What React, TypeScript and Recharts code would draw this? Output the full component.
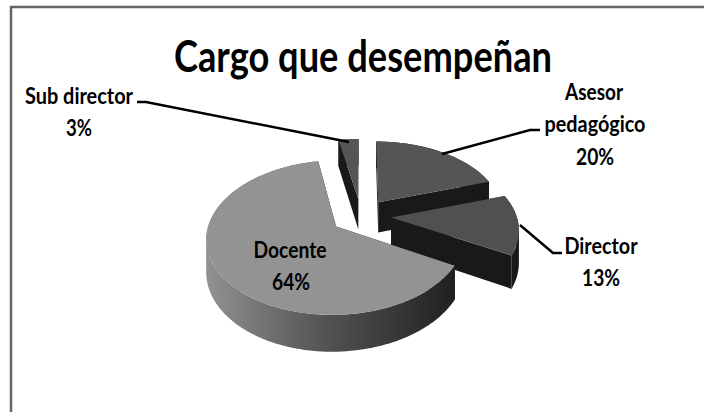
import { PieChart, Pie } from 'recharts';

// Cargo que desempeñan, exploded 3D pie
const names = ['Asesor pedagógico', 'Director', 'Docente', 'Sub director'];
const values = [20, 13, 64, 3];
const topColors = ['#555555', '#505050', '#939393', '#555555'];
const sideColors = ['#191919', '#191919', 'url(#rimDocente)', '#191919'];

const pieData = names.map((name, index) => ({ name, value: values[index] }));

// label layout, one line per row: [centre x, baseline y, width]
const labelRows = [
  [[594, 100, 58, 'Asesor'], [595, 132, 101, 'pedagógico'], [595, 165, 38, '%']],
  [[601, 254, 73, 'Director'], [601, 286, 38, '%']],
  [[290, 258, 73, 'Docente'], [291, 290, 38, '%']],
  [[79, 104, 108, 'Sub director'], [79, 136, 26, '%']],
];
const leaderLines = [
  '442,154 530,130 540,130',
  '520,225 553,253 562,253',
  '',
  '137,102 146,102 349,142',
];

const EXPLODE = 0.24;
const PERSPECTIVE = 0.14;
const FLATTEN = 0.58;
const DEPTH = 31;
const RAD = Math.PI / 180;
const TITLE_SQUEEZE = 0.88;

function Slice3D(props: any) {
  const { cx, cy, outerRadius, startAngle, endAngle, index } = props;
  const mid = ((startAngle + endAngle) / 2) * RAD;
  const project = (angle: number, r: number, h: number) => {
    const u = EXPLODE * Math.cos(mid) + r * Math.cos(angle * RAD);
    const v = -EXPLODE * Math.sin(mid) - r * Math.sin(angle * RAD);
    const w = 1 - PERSPECTIVE * v;
    return [cx + (outerRadius * u) / w, cy + (outerRadius * FLATTEN * v + h * DEPTH) / w];
  };
  const toPoints = (pts: number[][]) => pts.map((p) => `${p[0].toFixed(1)},${p[1].toFixed(1)}`).join(' ');
  const arc: number[] = [];
  const steps = Math.max(2, Math.ceil(Math.abs(startAngle - endAngle)));
  for (let i = 0; i <= steps; i++) {
    arc.push(startAngle + ((endAngle - startAngle) * i) / steps);
  }
  const topArc = arc.map((a) => project(a, 1, 0));
  const face = (a: number) => [project(a, 0, 0), project(a, 1, 0), project(a, 1, 1), project(a, 0, 1)];

  // rim as one path, every quad wound the same way so the fill has no seams
  let rim = '';
  arc.slice(1).forEach((a, i) => {
    const quad = [project(arc[i], 1, 0), project(a, 1, 0), project(a, 1, 1), project(arc[i], 1, 1)];
    const area = quad.reduce((sum, p, j) => {
      const q = quad[(j + 1) % 4];
      return sum + p[0] * q[1] - q[0] * p[1];
    }, 0);
    const ordered = area < 0 ? [...quad].reverse() : quad;
    rim += `M${ordered.map((p) => `${p[0].toFixed(2)} ${p[1].toFixed(2)}`).join('L')}Z`;
  });

  return (
    <g>
      <polygon points={toPoints(face(startAngle))} fill="#191919" />
      <polygon points={toPoints(face(endAngle))} fill="#191919" />
      <path d={rim} fill={sideColors[index]} fillRule="nonzero" />
      <polygon points={toPoints([project(startAngle, 0, 0), ...topArc])} fill={topColors[index]} />
    </g>
  );
}

function renderLabel(props: any) {
  const { index, percent } = props;
  return (
    <g key={index}>
      {leaderLines[index] && <polyline points={leaderLines[index]} fill="none" stroke="#000" strokeWidth={2.5} />}
      {labelRows[index].map((row: any, i: number) => (
        <text
          key={i}
          x={row[0]}
          y={row[1]}
          textAnchor="middle"
          textLength={row[2]}
          lengthAdjust="spacingAndGlyphs"
          fontFamily="Lato"
          fontWeight={700}
          fontSize={23}
          fill="#000"
        >
          {row[3] === '%' ? `${Math.round(percent * 100)}%` : row[3]}
        </text>
      ))}
    </g>
  );
}

export default function App() {
  return (
    <div style={{ position: 'absolute', left: 0, top: 0, width: 704, height: 412, background: '#fff' }}>
      <PieChart width={704} height={412} margin={{ top: 0, right: 0, bottom: 0, left: 0 }}>
        <defs>
          <linearGradient id="rimDocente" gradientUnits="userSpaceOnUse" x1="208" y1="0" x2="458" y2="0">
            <stop offset="0" stopColor="#919191" />
            <stop offset="0.45" stopColor="#555555" />
            <stop offset="1" stopColor="#1f1f1f" />
          </linearGradient>
        </defs>
        <polyline points="11,412 11,7 704,7" fill="none" stroke="#666" strokeWidth={2.5} />
        <text
          transform={`translate(363,72) scale(${TITLE_SQUEEZE},1)`}
          textAnchor="middle"
          textLength={378 / TITLE_SQUEEZE}
          lengthAdjust="spacingAndGlyphs"
          fontFamily="Lato"
          fontWeight={700}
          fontSize={43}
          fill="#000"
        >
          Cargo que desempeñan
        </text>
        <Pie
          data={pieData}
          dataKey="value"
          nameKey="name"
          cx={361}
          cy={216}
          outerRadius={125.5}
          startAngle={90}
          endAngle={-270}
          paddingAngle={0}
          stroke="none"
          isAnimationActive={false}
          shape={Slice3D}
          label={renderLabel}
          labelLine={false}
        />
      </PieChart>
    </div>
  );
}
